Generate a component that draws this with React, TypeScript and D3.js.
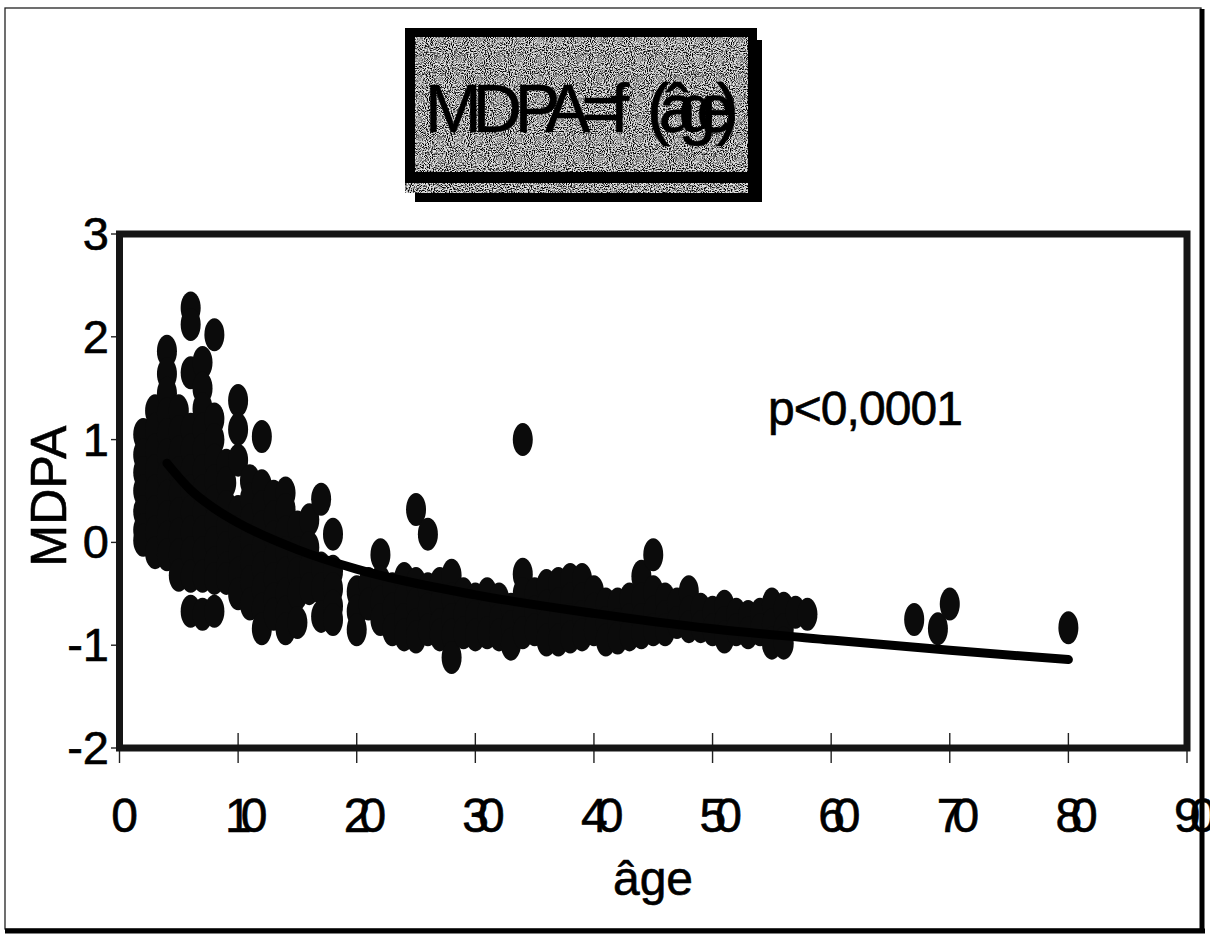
import React from "react";
import * as d3 from "d3";

// ---- data ----
const xTicks = [0, 10, 20, 30, 40, 50, 60, 70, 80, 90];
const yTicks = [-2, -1, 0, 1, 2, 3];

// [age, MDPA values at that age]
const children: [number, number[]][] = [
  [2, [1.05, 0.85, 0.68, 0.5, 0.3, 0.12, 0.02]],
  [3, [1.28, 1.1, 0.9, 0.7, 0.5, 0.3, 0.1, -0.1]],
  [4, [1.86, 1.64, 1.45, 1.25, 1.05, 0.85, 0.65, 0.45, 0.25, 0.05, -0.12]],
  [5, [1.28, 1.08, 0.88, 0.68, 0.48, 0.28, 0.08, -0.12, -0.32]],
  [6, [2.28, 2.12, 1.65, 1.1, 0.9, 0.7, 0.5, 0.3, 0.1, -0.1, -0.33, -0.67]],
  [7, [1.75, 1.5, 1.3, 1.1, 0.9, 0.7, 0.5, 0.3, 0.1, -0.1, -0.33, -0.7]],
  [8, [2.02, 1.2, 1.0, 0.8, 0.6, 0.4, 0.2, 0.0, -0.2, -0.35, -0.67]],
  [9, [0.75, 0.58, 0.35, 0.15, -0.05, -0.25, -0.35]],
  [10, [1.38, 1.1, 0.8, 0.3, 0.1, -0.1, -0.3, -0.5]],
  [11, [0.6, 0.42, 0.22, 0.02, -0.18, -0.38, -0.6]],
  [12, [1.03, 0.55, 0.35, 0.15, -0.05, -0.25, -0.45, -0.65, -0.84]],
  [13, [0.45, 0.25, 0.05, -0.15, -0.35, -0.55, -0.7]],
  [14, [0.48, 0.32, 0.1, -0.1, -0.3, -0.5, -0.68, -0.84]],
  [15, [0.15, -0.1, -0.3, -0.5, -0.78]],
  [16, [0.22, -0.05, -0.25, -0.45]],
  [17, [0.42, -0.25, -0.45, -0.72]],
  [18, [0.08, -0.28, -0.45, -0.62, -0.75]],
];

const adults: [number, number[]][] = [
  [20, [-0.48, -0.67, -0.85]],
  [21, [-0.4, -0.6]],
  [22, [-0.12, -0.38, -0.58, -0.75]],
  [23, [-0.45, -0.65, -0.85]],
  [24, [-0.35, -0.55, -0.75, -0.9]],
  [25, [0.32, -0.4, -0.6, -0.8, -0.92]],
  [26, [0.08, -0.45, -0.65, -0.85]],
  [27, [-0.4, -0.6, -0.8, -0.9]],
  [28, [-0.32, -0.55, -0.75, -0.9, -1.12]],
  [29, [-0.5, -0.7, -0.88]],
  [30, [-0.55, -0.72, -0.9]],
  [31, [-0.5, -0.7, -0.88]],
  [32, [-0.55, -0.75, -0.9]],
  [33, [-0.65, -0.82, -0.99]],
  [34, [1.0, -0.31, -0.5, -0.7, -0.88]],
  [35, [-0.5, -0.68, -0.85]],
  [36, [-0.42, -0.62, -0.8, -0.95]],
  [37, [-0.4, -0.6, -0.78, -0.95]],
  [38, [-0.36, -0.55, -0.75, -0.92]],
  [39, [-0.36, -0.55, -0.72, -0.9]],
  [40, [-0.48, -0.65, -0.85]],
  [41, [-0.6, -0.78, -0.95]],
  [42, [-0.6, -0.8, -0.93]],
  [43, [-0.55, -0.75, -0.9]],
  [44, [-0.33, -0.55, -0.75, -0.88]],
  [45, [-0.12, -0.48, -0.68, -0.85]],
  [46, [-0.55, -0.72, -0.85]],
  [47, [-0.6, -0.78]],
  [48, [-0.48, -0.68, -0.82]],
  [49, [-0.65, -0.82]],
  [50, [-0.68, -0.85]],
  [51, [-0.62, -0.78, -0.92]],
  [52, [-0.7, -0.85]],
  [53, [-0.72, -0.88]],
  [54, [-0.7, -0.85]],
  [55, [-0.6, -0.8, -0.98]],
  [56, [-0.64, -0.85, -0.98]],
  [57, [-0.68]],
  [58, [-0.7]],
];

const elderly: [number, number[]][] = [
  [67, [-0.75]],
  [69, [-0.84]],
  [70, [-0.6]],
  [80, [-0.83]],
];

// fitted trend line
const trendAges = [4, 6, 8, 10, 15, 20, 30, 40, 50, 60, 70, 80];
const trendValues = [0.77, 0.51, 0.33, 0.19, -0.07, -0.26, -0.51, -0.69, -0.84, -0.95, -1.05, -1.14];

const titleText = "MDPA=f(âge)";
const yLabel = "MDPA";
const xLabel = "âge";
const pText = "p<0,0001";

const FONT = "'Liberation Sans', Arial, Helvetica, sans-serif";

export default function App() {
  const W = 1210;
  const H = 935;
  const x = d3.scaleLinear().domain([0, 90]).range([119.5, 1187]);
  const y = d3.scaleLinear().domain([-2, 3]).range([748, 234]);

  const points: [number, number][] = [...children, ...adults, ...elderly].flatMap(
    ([a, vs]) => vs.map((v) => [a, v] as [number, number])
  );
  const trend: [number, number][] = trendAges.map((a, i) => [a, trendValues[i]]);
  const line = d3
    .line<[number, number]>()
    .x((d) => x(d[0]))
    .y((d) => y(d[1]))
    .curve(d3.curveMonotoneX);

  const [x0, x1] = x.range();
  const [yb, yt] = y.range();

  const inkStroke = { stroke: "#000", strokeWidth: 0.6 };
  // crowded glyph placement of the printed title
  const titleDx = "0 -9 -7 -10 -9 -11 18 -11 -18 -20 -18";

  return (
    <svg
      width={W}
      height={H}
      viewBox={`0 0 ${W} ${H}`}
      style={{ position: "absolute", left: 0, top: 0, background: "#fff" }}
    >
      <defs>
        <filter id="grain" x="0" y="0" width="100%" height="100%">
          <feTurbulence type="fractalNoise" baseFrequency="0.95" numOctaves="1" seed="4" result="t" />
          <feColorMatrix
            in="t"
            type="matrix"
            values="0 0 0 0 0  0 0 0 0 0  0 0 0 0 0  -4.2 0 0 0 2.4"
            result="dots"
          />
          <feComposite in="dots" in2="SourceGraphic" operator="in" />
        </filter>
      </defs>

      <rect x={0} y={0} width={W} height={H} fill="#fff" />

      {/* page frame */}
      <rect x={5} y={8} width={1196} height={921} fill="none" stroke="#222" strokeWidth={1.3} />
      <line x1={1202} y1={9} x2={1202} y2={933} stroke="#000" strokeWidth={5} />
      <line x1={5} y1={931} x2={1205} y2={931} stroke="#000" strokeWidth={5} />

      {/* title box with shadow */}
      <g>
        <rect x={415} y={40} width={347} height={162} fill="#000" />
        <rect x={405} y={28} width={352} height={165} fill="#e0e0e0" />
        <rect x={405} y={28} width={352} height={165} fill="#000" filter="url(#grain)" />
        <rect x={405} y={28} width={352} height={9} fill="#000" />
        <rect x={405} y={28} width={10} height={155} fill="#000" />
        <rect x={748} y={28} width={9} height={165} fill="#000" />
        <rect x={405} y={172} width={352} height={11} fill="#000" />
        <text x={425} y={132} dx={titleDx} fontFamily={FONT} fontSize={68} fill="#000" {...inkStroke}>
          {titleText}
        </text>
      </g>

      {/* x ticks */}
      {xTicks.map((t) => (
        <line key={"xt" + t} x1={x(t)} x2={x(t)} y1={733} y2={763} stroke="#222" strokeWidth={1.4} />
      ))}
      {/* y ticks */}
      {yTicks.map((t) => (
        <line key={"yt" + t} x1={111} x2={x0} y1={y(t)} y2={y(t)} stroke="#222" strokeWidth={1.4} />
      ))}

      {/* points */}
      <g fill="#0b0b0b">
        {points.map((p, i) => (
          <ellipse key={i} cx={x(p[0])} cy={y(p[1])} rx={10} ry={16.5} />
        ))}
      </g>

      {/* trend line */}
      <path d={line(trend) || ""} fill="none" stroke="#000" strokeWidth={9} strokeLinecap="round" />

      {/* plot frame */}
      <rect x={x0} y={yt} width={x1 - x0} height={yb - yt} fill="none" stroke="#151515" strokeWidth={7} />

      {/* y tick labels */}
      {yTicks.map((t) => (
        <text
          key={"yl" + t}
          x={109}
          y={y(t) + 16}
          textAnchor="end"
          fontFamily={FONT}
          fontSize={47}
          fill="#000"
          {...inkStroke}
        >
          {String(t)}
        </text>
      ))}

      {/* x tick labels (crowded digits as in the original) */}
      {xTicks.map((t) => {
        const s = String(t);
        return s.length > 1 ? (
          <text
            key={"xl" + t}
            x={x(t) - 13}
            y={832}
            fontFamily={FONT}
            fontSize={48}
            fill="#000"
            style={{ letterSpacing: "-11px" }}
            {...inkStroke}
          >
            {s}
          </text>
        ) : (
          <text
            key={"xl" + t}
            x={x(t) + 5}
            y={832}
            textAnchor="middle"
            fontFamily={FONT}
            fontSize={48}
            fill="#000"
            {...inkStroke}
          >
            {s}
          </text>
        );
      })}

      {/* axis titles */}
      <text x={653} y={895} textAnchor="middle" fontFamily={FONT} fontSize={48} fill="#000" {...inkStroke}>
        {xLabel}
      </text>
      <text
        transform="translate(66,496) rotate(-90)"
        textAnchor="middle"
        fontFamily={FONT}
        fontSize={50}
        fill="#000"
        {...inkStroke}
      >
        {yLabel}
      </text>

      {/* annotation */}
      <text
        x={768}
        y={425}
        fontFamily={FONT}
        fontSize={48}
        textLength={195}
        lengthAdjust="spacing"
        fill="#000"
        {...inkStroke}
      >
        {pText}
      </text>
    </svg>
  );
}
